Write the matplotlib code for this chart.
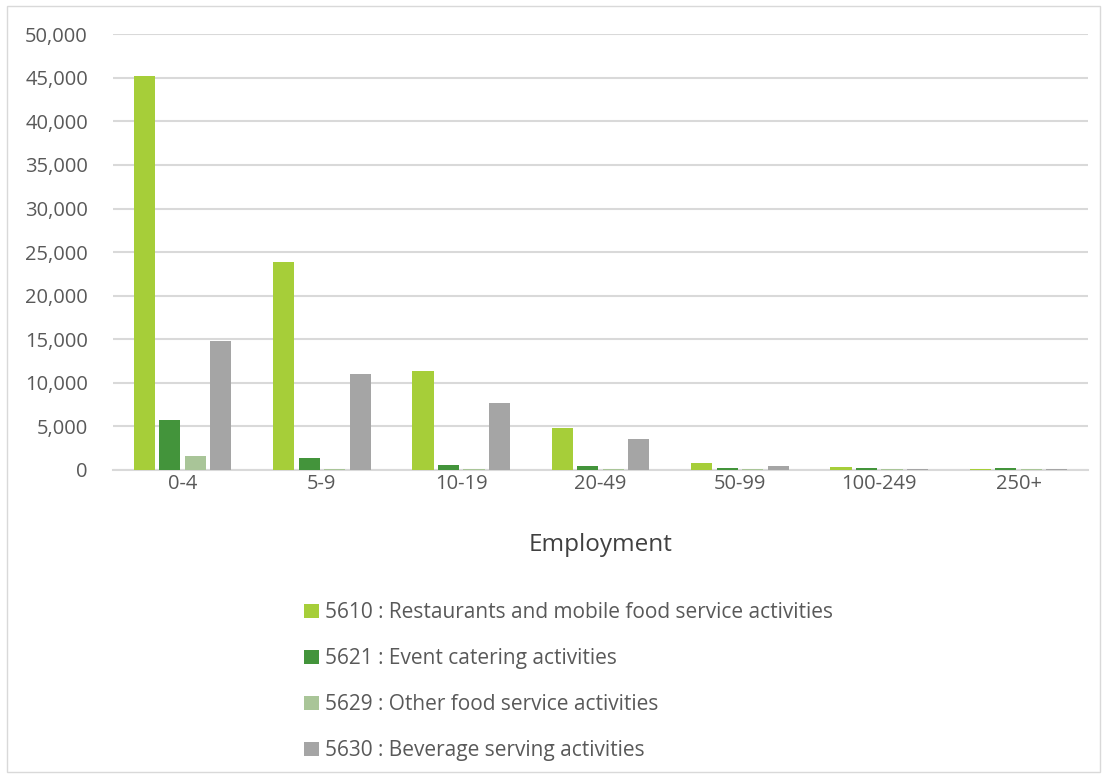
import matplotlib.pyplot as plt
import matplotlib.patches as patches
import numpy as np

plt.rcParams['font.family'] = ['Open Sans', 'DejaVu Sans']

# size bands of employment
categories = ['0-4', '5-9', '10-19', '20-49', '50-99', '100-249', '250+']

# number of enterprises per class
restaurants = [45200, 23900, 11400, 4800, 850, 350, 80]
event_catering = [5750, 1400, 600, 400, 180, 180, 180]
other_food = [1600, 150, 150, 150, 150, 150, 150]
beverage = [14800, 10950, 7700, 3550, 400, 150, 150]

series_labels = [
    '5610 : Restaurants and mobile food service activities',
    '5621 : Event catering activities',
    '5629 : Other food service activities',
    '5630 : Beverage serving activities',
]
colors = ['#a6ce39', '#43943b', '#a9c598', '#a5a5a5']

fig = plt.figure(figsize=(11.07, 7.78), dpi=100)
ax = fig.add_axes([0.102, 0.396, 0.881, 0.560])

x = np.arange(len(categories))
pitch = 0.183
width = 0.152
all_series = [restaurants, event_catering, other_food, beverage]
for i, (vals, lab, col) in enumerate(zip(all_series, series_labels, colors)):
    offset = (i - 1.5) * pitch
    ax.bar(x + offset, vals, width, color=col, label=lab, zorder=3)

ax.set_xlim(-0.5, len(categories) - 0.5)
ax.set_ylim(0, 50000)
ax.set_yticks(np.arange(0, 50001, 5000))
ax.set_yticklabels([f'{v:,}' for v in range(0, 50001, 5000)])
ax.set_xticks(x)
ax.set_xticklabels(categories)
ax.tick_params(axis='both', length=0, labelsize=14.5, colors='#595959')
ax.tick_params(axis='x', pad=3)
ax.tick_params(axis='y', pad=18)
ax.set_xlabel('Employment', fontsize=17.5, color='#404040', labelpad=28)

ax.grid(axis='y', color='#d9d9d9', linewidth=1.5, zorder=0)
for side in ['left', 'right', 'top']:
    ax.spines[side].set_visible(False)
ax.spines['bottom'].set_color('#d9d9d9')
ax.spines['bottom'].set_linewidth(1.5)

handles, labels = ax.get_legend_handles_labels()
leg = fig.legend(handles, labels, loc='upper left',
                 bbox_to_anchor=(0.258, 0.25), frameon=False,
                 fontsize=15, handlelength=0.7, handleheight=0.7,
                 handletextpad=0.3, labelspacing=1.2)
for t in leg.get_texts():
    t.set_color('#595959')

# light frame around the chart area
fig.patches.append(patches.Rectangle((0.006, 0.008), 0.988, 0.984,
                                     transform=fig.transFigure, fill=False,
                                     edgecolor='#d9d9d9', linewidth=1))

fig.savefig('out.png', dpi=100)
